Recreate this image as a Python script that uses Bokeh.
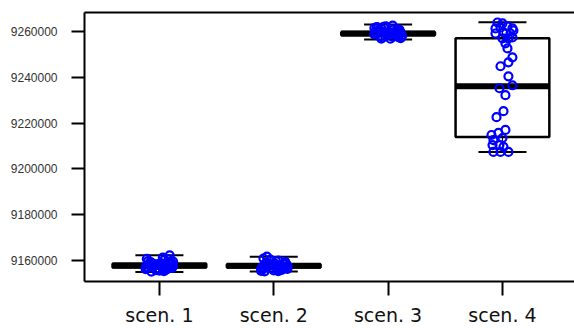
from bokeh.plotting import figure
from bokeh.models import Range1d, FixedTicker, LinearAxis, ColumnDataSource, NumeralTickFormatter
from bokeh.embed import file_html
from bokeh.resources import INLINE

# ---------------- data ----------------
categories = ["scen. 1", "scen. 2", "scen. 3", "scen. 4"]
positions = [1, 2, 3, 4]

# box statistics: lower whisker, Q1, median, Q3, upper whisker
whisk_lo = [9155000, 9155200, 9256500, 9207400]
q1 = [9157000, 9157000, 9258300, 9213900]
median = [9157800, 9157700, 9259100, 9236100]
q3 = [9158600, 9158400, 9259800, 9257000]
whisk_hi = [9162300, 9161700, 9263000, 9264000]

# individual runs per scenario
scen1_vals = [9157200, 9157900, 9158400, 9156800, 9159100, 9157500, 9158800, 9156300,
              9157000, 9158100, 9159600, 9156600, 9157700, 9158500, 9155600, 9157300,
              9160200, 9156900, 9158200, 9157600, 9159300, 9156400, 9158700, 9157100,
              9162300, 9157800, 9156100, 9158900, 9157400, 9159800, 9155200, 9160800,
              9156000, 9161300, 9155800, 9159500, 9157000, 9160500, 9155400, 9158000]
scen1_jit = [-0.10, 0.05, -0.03, 0.11, -0.07, 0.02, 0.09, -0.12, 0.07, -0.05,
             0.10, -0.01, 0.12, -0.09, 0.00, -0.11, 0.04, 0.08, -0.02, 0.06,
             -0.08, 0.03, 0.11, -0.06, 0.09, -0.04, 0.05, 0.01, 0.10, -0.10,
             -0.07, -0.11, 0.06, 0.03, -0.03, 0.12, -0.12, 0.08, 0.04, 0.00]

scen2_vals = [9157100, 9157800, 9158300, 9156700, 9159000, 9157400, 9158600, 9156200,
              9156900, 9158000, 9159400, 9156500, 9157600, 9158400, 9155700, 9157200,
              9160000, 9156800, 9158100, 9157500, 9158900, 9156300, 9158500, 9157000,
              9161700, 9157700, 9156000, 9158700, 9157300, 9156400, 9155300, 9160400,
              9155900, 9159700, 9155500, 9159200, 9156900, 9160900, 9155400, 9157900]
scen2_jit = [-0.09, 0.05, -0.03, 0.11, -0.06, 0.02, 0.09, -0.11, 0.07, -0.05,
             0.10, -0.01, 0.12, -0.08, 0.00, -0.10, 0.04, 0.08, -0.02, 0.06,
             -0.07, 0.03, 0.11, -0.06, -0.06, -0.04, 0.05, 0.01, 0.10, 0.12,
             -0.08, -0.03, 0.07, 0.02, -0.11, 0.10, 0.11, -0.09, 0.04, 0.00]

scen3_vals = [9259000, 9259600, 9258400, 9260300, 9257800, 9259200, 9261000, 9258700,
              9259900, 9257300, 9260700, 9259400, 9258100, 9261700, 9258900, 9260000,
              9257600, 9259700, 9262200, 9258500, 9260500, 9259100, 9257100, 9261300,
              9258300, 9259800, 9260900, 9258800, 9259300, 9261900, 9256900, 9262500,
              9257500, 9261500, 9258000, 9260200, 9256800, 9262000, 9259500, 9258600]
scen3_jit = [-0.10, 0.05, -0.03, 0.10, -0.07, 0.02, 0.08, -0.12, 0.07, -0.05,
             0.10, -0.01, 0.12, -0.09, 0.00, -0.11, 0.04, 0.08, -0.02, 0.06,
             -0.08, 0.03, 0.11, -0.06, 0.09, -0.04, 0.05, 0.01, 0.10, -0.10,
             -0.06, 0.04, 0.09, -0.12, 0.12, -0.07, 0.02, -0.04, 0.11, -0.01]

scen4_vals = [9263900, 9263500, 9261300, 9261700, 9262200, 9261300, 9259100, 9259600,
              9259100, 9260400, 9257000, 9257000, 9254800, 9257400, 9252600, 9248700,
              9246500, 9244800, 9240400, 9236500, 9235200, 9232200, 9225200, 9222600,
              9217000, 9214800, 9215700, 9212600, 9213500, 9210400, 9210400, 9209600,
              9207400, 9207400, 9207400]
scen4_jit = [-0.044, 0.000, -0.061, -0.017, 0.044, 0.087, -0.061, 0.009, 0.070, 0.096,
             0.000, 0.052, 0.026, 0.087, 0.044, 0.087, 0.052, -0.017, 0.052, 0.087,
             -0.026, 0.026, 0.009, -0.052, 0.026, -0.096, -0.035, -0.079, 0.000, -0.087,
             -0.026, 0.009, -0.079, -0.017, 0.052]

y_ticks = [9160000, 9180000, 9200000, 9220000, 9240000, 9260000]

# ---------------- figure ----------------
p = figure(width=574, height=328, output_backend="svg", toolbar_location=None,
           x_range=Range1d(0.345, 4.63), y_range=Range1d(9150870, 9268261),
           min_border_left=84, min_border_right=0, min_border_top=12, min_border_bottom=46)
p.background_fill_color = "white"
p.border_fill_color = "white"
p.outline_line_color = None
p.xgrid.visible = False
p.ygrid.visible = False

box_w = 0.41
cap_w = 0.21
src = ColumnDataSource(dict(x=positions, lo=whisk_lo, q1=q1, med=median, q3=q3, hi=whisk_hi,
                            left=[v - box_w for v in positions], right=[v + box_w for v in positions],
                            cl=[v - cap_w for v in positions], cr=[v + cap_w for v in positions]))

# whiskers
p.segment(x0="x", y0="q3", x1="x", y1="hi", source=src, line_color="black", line_width=1)
p.segment(x0="x", y0="q1", x1="x", y1="lo", source=src, line_color="black", line_width=1)
# boxes
p.quad(left="left", right="right", bottom="q1", top="q3", source=src,
       fill_color="white", line_color="black", line_width=2.5)
# medians
p.segment(x0="left", y0="med", x1="right", y1="med", source=src, line_color="black", line_width=6)
# caps
p.segment(x0="cl", y0="hi", x1="cr", y1="hi", source=src, line_color="black", line_width=2)
p.segment(x0="cl", y0="lo", x1="cr", y1="lo", source=src, line_color="black", line_width=2)

# points
for pos, vals, jit in [(1, scen1_vals, scen1_jit), (2, scen2_vals, scen2_jit),
                       (3, scen3_vals, scen3_jit), (4, scen4_vals, scen4_jit)]:
    xs = [pos + j for j in jit]
    p.scatter(xs, vals, marker="circle", size=8, fill_color=None,
              line_color="#0000ff", line_width=2.2)

# axes
xa = p.xaxis[0]
xa.ticker = FixedTicker(ticks=positions)
xa.major_label_overrides = {pos: lab for pos, lab in zip(positions, categories)}
xa.major_label_text_font = "DejaVu Sans"
xa.major_label_text_font_size = "19px"
xa.major_label_text_color = "#111111"
xa.major_label_standoff = 8
xa.major_tick_out = 14
xa.major_tick_in = 0
xa.major_tick_line_width = 2
xa.minor_tick_line_color = None
xa.axis_line_width = 2

ya = p.yaxis[0]
ya.ticker = FixedTicker(ticks=y_ticks)
ya.formatter = NumeralTickFormatter(format="0")
ya.major_label_text_font = "Liberation Sans"
ya.major_label_text_font_size = "12px"
ya.major_label_text_color = "#333333"
ya.major_label_standoff = 14
ya.major_tick_out = 13
ya.major_tick_in = 0
ya.major_tick_line_width = 2
ya.minor_tick_line_color = None
ya.axis_line_width = 2

top = LinearAxis(ticker=FixedTicker(ticks=[]), major_label_text_font_size="0px",
                 major_tick_out=0, major_tick_in=0, minor_tick_line_color=None,
                 axis_line_width=2, axis_line_color="black")
p.add_layout(top, "above")

open("out.html", "w").write(file_html(p, INLINE))
